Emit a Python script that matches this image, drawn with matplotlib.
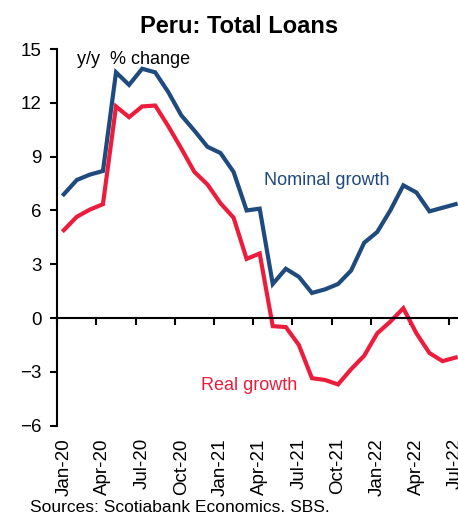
import numpy as np
import matplotlib
matplotlib.use("Agg")
import matplotlib.pyplot as plt

plt.rcParams['font.family'] = ['Liberation Sans', 'DejaVu Sans']

months = ["Jan-20", "Feb-20", "Mar-20", "Apr-20", "May-20", "Jun-20", "Jul-20", "Aug-20",
          "Sep-20", "Oct-20", "Nov-20", "Dec-20", "Jan-21", "Feb-21", "Mar-21", "Apr-21",
          "May-21", "Jun-21", "Jul-21", "Aug-21", "Sep-21", "Oct-21", "Nov-21", "Dec-21",
          "Jan-22", "Feb-22", "Mar-22", "Apr-22", "May-22", "Jun-22", "Jul-22"]
nominal = [6.9, 7.7, 8.0, 8.2, 13.7, 13.0, 13.9, 13.7, 12.6, 11.3, 10.45, 9.55,
           9.2, 8.15, 6.0, 6.1, 1.9, 2.75, 2.3, 1.4, 1.6, 1.9, 2.65, 4.2,
           4.8, 6.0, 7.4, 7.0, 5.95, 6.15, 6.35]
real = [4.9, 5.65, 6.05, 6.35, 11.8, 11.2, 11.8, 11.85, 10.7, 9.45, 8.15, 7.45,
        6.4, 5.6, 3.3, 3.6, -0.45, -0.5, -1.5, -3.35, -3.45, -3.7, -2.85, -2.1,
        -0.85, -0.2, 0.55, -0.85, -1.95, -2.4, -2.2]
yticks = [-6, -3, 0, 3, 6, 9, 12, 15]

blue = '#1F4A7E'
red = '#EC1C3C'

fig = plt.figure(figsize=(4.58, 5.16), dpi=100)
ax = fig.add_axes([0.125, 0.175, 0.884, 0.730])

x = np.arange(len(months))
ax.plot(x, nominal, color=blue, lw=3.0, solid_joinstyle='miter')
ax.plot(x, real, color=red, lw=3.0, solid_joinstyle='miter')

ax.set_xlim(-0.5, len(months) - 0.5)
ax.set_ylim(-6, 15)
ax.set_yticks(yticks)
ax.tick_params(axis='y', labelsize=13.5, length=5, width=1.5, pad=6)

for s in ['top', 'right']:
    ax.spines[s].set_visible(False)
ax.spines['left'].set_linewidth(1.5)
ax.spines['bottom'].set_position(('data', 0))
ax.spines['bottom'].set_linewidth(1.5)
ax.set_xticks(np.arange(-0.5, len(months), 3))
ax.set_xticklabels([])
ax.tick_params(axis='x', length=5, width=1.5)

for i in range(0, len(months), 3):
    ax.text(i, -0.033, months[i], transform=ax.get_xaxis_transform(),
            rotation=90, ha='center', va='top', fontsize=13.5)

fig.text(0.522, 0.948, "Peru: Total Loans", ha='center', va='center',
         fontsize=17, fontweight='bold')
ax.text(1.0, 14.4, "y/y  % change", fontsize=13, va='center')
ax.text(15.3, 7.65, "Nominal growth", fontsize=13, color=blue, va='center')
ax.text(10.5, -3.75, "Real growth", fontsize=13, color=red, va='center')
fig.text(0.065, 0.017, "Sources: Scotiabank Economics. SBS.", fontsize=12.5, va='center')

fig.savefig("out.png", dpi=100)
